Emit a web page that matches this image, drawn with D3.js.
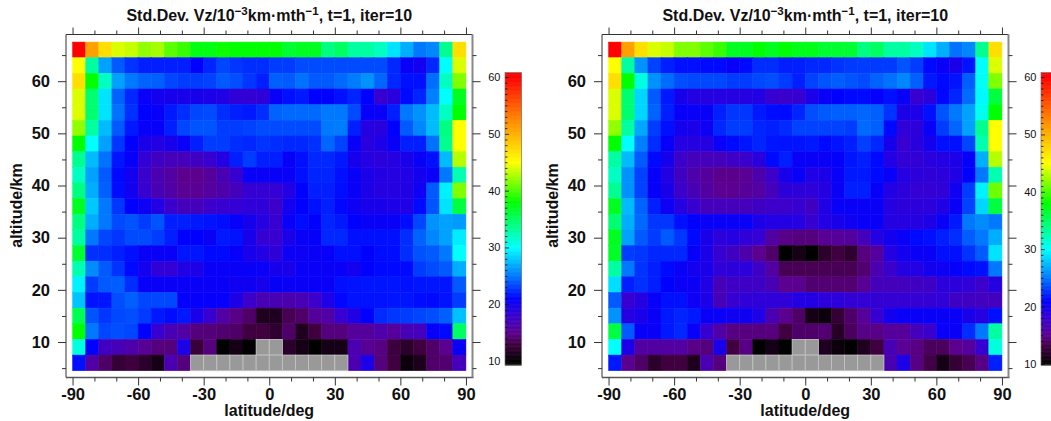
<!DOCTYPE html>
<html>
<head>
<meta charset="utf-8">
<script src="https://cdn.jsdelivr.net/npm/d3@7"></script>
<style>
    html, body { margin: 0; padding: 0; background: #fff; overflow: hidden; }
    svg { display: block; }
    text { font-family: "Liberation Sans", Arial, sans-serif; fill: #111; }
    .domain { display: none; }
</style>
</head>
<body>
<svg id="chart" width="1051" height="421"></svg>
<script>
// cell centres, cells are 6 deg x 3 km
const latitudes = [-87, -81, -75, -69, -63, -57, -51, -45, -39, -33, -27, -21, -15, -9, -3, 3, 9, 15, 21, 27, 33, 39, 45, 51, 57, 63, 69, 75, 81, 87];
const altitudes = [66, 63, 60, 57, 54, 51, 48, 45, 42, 39, 36, 33, 30, 27, 24, 21, 18, 15, 12, 9, 6];

const latMajor = [-90, -60, -30, 0, 30, 60, 90];
const latMinor = [-80, -70, -50, -40, -20, -10, 10, 20, 40, 50, 70, 80];
const altMajor = [10, 20, 30, 40, 50, 60];
const altMinor = [5, 15, 25, 35, 45, 55, 65];
const barLabels = [10, 20, 30, 40, 50, 60];

const _ = null; // no data, grey cell

// std dev, top row first
const valuesLeft = [
    [60, 51, 47, 44, 43.5, 42, 42.5, 40.5, 39.5, 37.5, 37.5, 38.3, 38, 38, 38, 38, 36.5, 37, 37, 34, 35, 33, 33, 32, 29, 27, 25, 25.5, 33.5, 47],
    [45, 33, 26.5, 24, 22.7, 22, 22, 22, 22, 21, 22.2, 23.3, 22.8, 22.5, 22.5, 23, 23, 23.5, 23.5, 23.5, 23.5, 23.5, 23.5, 23.5, 22.3, 20.5, 20, 22.3, 30, 44],
    [47, 38, 32, 26.5, 25, 24.3, 24.2, 23.3, 23, 23, 23.2, 24, 23.6, 22.8, 22, 24.2, 24, 24.8, 24, 24, 24.5, 25.2, 26, 24.4, 22.3, 21.5, 21.5, 24.7, 32, 41.5],
    [44, 34.5, 29, 24.3, 22.3, 20.5, 20, 19.8, 19.7, 19.8, 19.5, 19.3, 18.5, 18.3, 18.5, 20.5, 21.5, 21.8, 21, 21, 21.5, 22.2, 21, 18, 18.8, 21.3, 22.2, 25.3, 30, 37],
    [44, 34.5, 29, 24.8, 22.6, 21, 20.7, 21.8, 22.5, 23.3, 23.5, 22.5, 22, 21.8, 22.5, 24.3, 24.5, 24.5, 24.5, 25, 25, 23.5, 20.7, 20.5, 22, 25, 26, 27.5, 32, 38],
    [42, 33, 27.5, 24, 21.8, 20.7, 20.7, 22, 23.3, 23.8, 23.8, 23, 23, 23.2, 23.5, 23.5, 23.5, 23.5, 23.5, 25, 25.2, 22, 19, 18.8, 21, 24, 25.5, 27.5, 34, 45],
    [38, 30, 26.5, 22.8, 21, 19.6, 19.2, 19.7, 20.5, 22, 23, 23, 22.5, 22.3, 22.7, 22.5, 22.3, 22.3, 22.6, 24.4, 23.2, 20.5, 18.8, 19.5, 20.5, 22, 22, 24.8, 33.5, 45],
    [33.5, 27.5, 24.8, 21.7, 20.6, 18.3, 17.3, 17, 17, 17.3, 18, 19.2, 22, 23, 22, 22, 20.6, 21.5, 22.3, 22.3, 21.8, 19.8, 19, 18.7, 19, 19.7, 20.5, 21.5, 27.5, 43],
    [32, 26.5, 24, 21.3, 20, 17.8, 16.5, 15.8, 15, 15, 15.5, 16.7, 18, 20.5, 20.5, 20.5, 20.5, 21.5, 22.2, 22.2, 21.5, 20.5, 19.5, 19.2, 19, 19.3, 20, 20.5, 25, 32.5],
    [34, 27, 24.2, 21.4, 20, 18, 16.7, 16, 15.2, 15.2, 15.7, 16.3, 17, 18.2, 18.2, 18.2, 19.2, 21, 22, 22, 21.4, 20.5, 19.5, 19, 19, 19.3, 20.3, 24, 29.5, 41.5],
    [37, 28, 25, 22.8, 21, 20.3, 19.2, 17.8, 17, 17, 17.7, 18, 18.2, 18.5, 18.5, 17.7, 20, 21, 21.5, 22, 21.2, 20.3, 19.7, 19.7, 19.5, 19.3, 21.3, 23.8, 29, 36],
    [34, 27, 25, 23.5, 23.8, 23, 23.8, 22, 22, 21.8, 21.6, 21.4, 20.7, 19.8, 19, 18, 20.5, 21.4, 21, 22.2, 21.8, 21, 20.5, 20.5, 20.5, 21.4, 23.3, 26, 26.5, 26.3],
    [33, 25, 23.3, 22.8, 23.5, 23.5, 23, 22, 21, 21, 20.5, 21.8, 21.6, 19.7, 18.2, 18, 19.6, 20.5, 20.7, 22.3, 22.3, 21.5, 21.5, 21.5, 21.5, 22.5, 24.3, 25.5, 26.5, 29.3],
    [36.5, 22.6, 22.5, 22, 21.5, 20.5, 20.5, 20.5, 21.7, 21.7, 21.3, 21.3, 20.7, 19.7, 19.2, 18.5, 20.3, 20.3, 20.5, 20.7, 21.5, 21.5, 21, 21.4, 21.4, 22.5, 23.7, 24, 25, 30],
    [32.5, 25.7, 24, 22.7, 21.3, 20, 18.5, 18.3, 19.3, 19.5, 20.5, 20.5, 20.5, 20.5, 20.5, 19.8, 19.7, 20.5, 20.5, 20.5, 20.5, 20, 21, 21.3, 21.3, 21.3, 23, 23.5, 24, 27],
    [29.5, 23, 24, 24.1, 22.5, 20.7, 20.5, 20.5, 20.5, 20.5, 20.5, 20.5, 20.2, 20.2, 19.8, 20.6, 20.5, 20.5, 20.5, 20.5, 21.5, 21.6, 21.7, 21.7, 21.7, 21.5, 21.7, 21.7, 21.7, 24],
    [27.8, 21.6, 21.7, 23.6, 24.2, 23.3, 23.4, 23.4, 20.8, 20.8, 20.8, 20.8, 19.5, 17.7, 16.7, 16.7, 16.4, 16.7, 17.7, 19.4, 21.2, 21.6, 21.6, 21.6, 21.7, 21.7, 21.4, 21.3, 21.6, 23],
    [35.5, 23.8, 22.8, 23.4, 23.6, 22.9, 21.8, 21.4, 21.8, 19.6, 18, 16, 14.8, 14, 11.5, 11.5, 13.5, 14, 15.5, 16, 18, 19.3, 21, 22.4, 22.8, 23, 23.3, 23.6, 24.2, 27.7],
    [38, 25, 23.3, 23.6, 23.3, 21, 18, 16.7, 16, 14.5, 14.4, 14.2, 14, 13, 13, 12.2, 14, 11.5, 13, 14.5, 14.5, 15.5, 15.5, 16.2, 15.5, 16.7, 17, 20.7, 21.3, 35],
    [31, 21, 17.3, 16.8, 16.2, 15.3, 14.5, 14.5, 19.5, 12.7, 14.5, 10, 11, 10, _, _, 12, 11, 10, 11, 11, 16.5, 15.3, 14.7, 12.8, 12, 13, 14, 15, 20.5],
    [21.5, 16, 14, 12.5, 13, 12, 11, 16.5, 14.5, _, _, _, _, _, _, _, _, _, _, _, _, 16.5, 19.5, 14.5, 13, 10.5, 11.3, 14, 14.2, 17]
];

// same
const valuesRight = [
    [60, 51, 47, 44, 43.5, 41.5, 41.5, 40.5, 39.5, 37, 37, 38, 37, 38, 37.3, 37.3, 36.5, 36.5, 36.5, 34, 35, 33, 33, 32, 29, 27, 24.8, 25.5, 33.5, 47],
    [45, 33, 26, 23.2, 22, 21.5, 21.5, 21.3, 21.3, 20.5, 21.3, 22.5, 22.5, 22, 22, 22.3, 22.3, 22.7, 22.9, 23, 22.9, 22.9, 23.8, 23, 21.3, 20.5, 19.6, 21.6, 30, 44],
    [47, 38, 31, 26, 24.6, 23.6, 23.4, 23.4, 23.4, 23, 23, 23.4, 23.6, 23, 22, 23.2, 23.8, 24.1, 23.8, 23.5, 24.3, 24.8, 25.5, 24.2, 21.8, 21.3, 21.6, 24.1, 30.3, 41.5],
    [44, 34.5, 28.5, 24, 21.8, 19.8, 19.2, 19, 19, 19, 19, 19.2, 18, 17.8, 18, 19.5, 20.5, 21, 21.3, 21.3, 20.8, 21.5, 20.5, 18, 18.7, 21.2, 22.2, 24.6, 29.8, 36],
    [44, 34.5, 28.5, 24.3, 22, 20.6, 20.5, 20.5, 22, 22.8, 22.8, 21.8, 21.4, 21.3, 22.2, 23.6, 24, 24.2, 24.2, 24.4, 24.2, 22.7, 19.5, 19.5, 21.5, 23.8, 25, 26.5, 30.5, 38],
    [42, 33, 26.8, 23, 21.5, 20, 19.6, 20.3, 22.3, 23, 23, 22.2, 22, 22.4, 23.2, 23.2, 23.2, 23.2, 23, 24.5, 24.2, 21.3, 18.5, 18.7, 20.5, 23, 24.4, 26.5, 33.5, 45],
    [38, 30, 25.3, 22.5, 20.7, 19, 19, 19, 20.5, 21.3, 21.7, 22.2, 21.7, 21.6, 21.6, 21.8, 21.3, 21.6, 22, 23.1, 22.3, 19.8, 18, 18.8, 19.9, 21.5, 21.5, 23.3, 32.5, 45],
    [33, 27.5, 24, 21.3, 19.8, 17.7, 17, 17, 17, 17.5, 17.8, 18.8, 21.3, 22, 20.5, 20.5, 20.5, 20.8, 21.7, 22, 21.3, 19.2, 18.3, 18.3, 18.8, 19.2, 19.5, 20.7, 27, 43],
    [32, 26, 23.2, 20.7, 19.2, 17.3, 16.2, 15.6, 14.9, 14.9, 15.2, 16.3, 17.7, 19.7, 20.5, 19.3, 19.5, 20.5, 21.8, 21.8, 21.3, 20.5, 19, 18.7, 18.5, 18.7, 19.3, 21, 25, 32.5],
    [33.5, 26, 23.2, 20.6, 19.6, 17.7, 16.7, 15.8, 15.1, 15.1, 15.4, 15.8, 17, 18.6, 18.6, 18.6, 19, 20.5, 22, 22, 20.7, 19.2, 18.7, 18.2, 18.2, 18.5, 20.2, 23, 29.5, 41],
    [37, 27.5, 24.3, 22, 20.3, 19, 18, 17, 17, 17, 17, 17.3, 17.7, 17.7, 18, 17.3, 19.3, 20.5, 20.5, 20.5, 20.5, 19, 18.7, 18.7, 18.7, 19.3, 20.5, 23.2, 28.5, 36],
    [34.5, 27, 24.5, 22.8, 22.8, 21.5, 21, 20.5, 20.5, 20.5, 20.5, 19.5, 19.2, 19.2, 19, 18, 19.2, 19.7, 20.2, 20.5, 20.5, 19, 19, 19, 19.4, 20.5, 21.8, 25, 25.7, 25],
    [37, 26.5, 24, 23, 24, 22.8, 21.3, 19.6, 18.7, 19, 18.5, 18.2, 15.8, 14.8, 14.5, 14.5, 15.3, 15.5, 15.7, 17, 19, 20, 20.5, 21.3, 21.5, 22, 22.5, 24.1, 25, 27],
    [36.8, 23, 22.8, 22.3, 22.3, 22.3, 20.6, 19.6, 18, 17.3, 16.3, 15, 14, 10, 11, 10, 12, 13, 12.2, 14.6, 15.7, 19, 20, 20.5, 20.5, 21.5, 21.5, 22.7, 24, 29],
    [33, 25, 22.7, 22, 21.3, 20.5, 20, 19.6, 18.5, 18.7, 18.7, 17.5, 15.8, 13.5, 13.5, 13.5, 13.5, 13.5, 13.5, 14.2, 16.5, 17.8, 19, 19.2, 20, 20.3, 20.7, 21.3, 21.5, 25],
    [28.8, 22, 22.6, 22, 21, 20.4, 20.4, 19.3, 16.8, 17.5, 17.5, 17.5, 16.7, 15, 15, 14.2, 14.3, 14.3, 14.3, 15.3, 17, 17, 17.1, 17.3, 17.5, 18.7, 18.7, 18.5, 17.7, 19],
    [24, 18, 19, 20.5, 21.5, 21.5, 20.3, 19.5, 16.8, 18, 18.5, 18.5, 18.5, 18.5, 19.2, 19.2, 18.7, 18.7, 18.3, 18.3, 18.3, 18.2, 18.2, 18.2, 18.2, 18.5, 17.5, 17.3, 17.2, 17.2],
    [26, 19, 19.6, 20.5, 21.8, 22.2, 21.8, 20.5, 20.5, 20.2, 20.2, 19.3, 16.5, 15, 14, 11, 10.5, 12.5, 14, 15.5, 18, 20, 20.5, 20.5, 20.5, 20.5, 20.5, 19.6, 19, 21.5],
    [36, 24, 20.6, 20.5, 21.8, 22.3, 20.5, 18, 16, 14.7, 14.6, 14.6, 14.6, 13, 14, 14, 14.3, 11.8, 13.8, 14.8, 14.8, 15.5, 15.5, 17, 17.8, 20.5, 20.5, 22.5, 25, 33],
    [30, 19.5, 15.8, 15.8, 15.8, 15.8, 14.8, 14.5, 19.7, 13, 14.7, 10, 11, 10, _, _, 11.5, 10.5, 10, 11.5, 13, 16.7, 15.2, 14.7, 13.7, 13.7, 15, 15.6, 18, 31],
    [21.8, 15, 14, 12, 13, 13, 11.3, 16.5, 14.5, _, _, _, _, _, _, _, _, _, _, _, _, 16.5, 19.5, 14.7, 13.2, 11, 12.5, 13.5, 14.7, 22]
];

const colorStops = [10, 13, 15, 18, 21, 25, 30, 34, 38, 45, 52, 60];
const colorRange = ["#000000", "#400040", "#5c0090", "#3800d0", "#0000ff", "#0078ff", "#00ffff", "#00ff80", "#00ff00", "#ffff00", "#ff9000", "#ff0000"];

const color = d3.scaleLinear().domain(colorStops).range(colorRange).clamp(true);
const svg = d3.select("#chart");

function styleAxis(g) {
    g.selectAll("line").attr("stroke", "#333").attr("stroke-width", 1);
    g.selectAll("text").attr("font-size", 16.5).attr("font-weight", "bold");
}

function drawPanel(left, right, values, barLeft, barValueBottom) {
    const top = 34.5, bottom = 377.5;
    const x = d3.scaleLinear().domain([-93, 93]).range([left, right]);
    const y = d3.scaleLinear().domain([68.95, 3.2]).range([top, bottom]);

    const panel = svg.append("g");

    // cells, same-colour stroke hides the seams between neighbours
    values.forEach((row, r) => {
        row.forEach((v, c) => {
            if (v === null) return;
            panel.append("rect")
                .attr("x", x(latitudes[c] - 3))
                .attr("y", y(altitudes[r] + 1.5))
                .attr("width", x(latitudes[c] + 3) - x(latitudes[c] - 3))
                .attr("height", y(altitudes[r] - 1.5) - y(altitudes[r] + 1.5))
                .attr("fill", color(v))
                .attr("stroke", color(v))
                .attr("stroke-width", 0.5);
        });
    });
    // no-data cells go last, their light outline sits on top
    values.forEach((row, r) => {
        row.forEach((v, c) => {
            if (v !== null) return;
            panel.append("rect")
                .attr("x", x(latitudes[c] - 3))
                .attr("y", y(altitudes[r] + 1.5))
                .attr("width", x(latitudes[c] + 3) - x(latitudes[c] - 3))
                .attr("height", y(altitudes[r] - 1.5) - y(altitudes[r] + 1.5))
                .attr("fill", "#999999")
                .attr("stroke", "#c4c4c4")
                .attr("stroke-width", 0.8);
        });
    });

    // frame, right side and bottom are heavier and grey in the original
    panel.append("line").attr("x1", left).attr("x2", left).attr("y1", top).attr("y2", bottom).attr("stroke", "#333");
    panel.append("line").attr("x1", left).attr("x2", right).attr("y1", top).attr("y2", top).attr("stroke", "#333");
    panel.append("line").attr("x1", left).attr("x2", right + 1).attr("y1", bottom).attr("y2", bottom).attr("stroke", "#555").attr("stroke-width", 1.5);
    panel.append("line").attr("x1", right).attr("x2", right).attr("y1", top).attr("y2", bottom).attr("stroke", "#888").attr("stroke-width", 2);

    // major ticks with labels, minor ones without
    const gb = panel.append("g").attr("transform", `translate(0,${bottom})`)
        .call(d3.axisBottom(x).tickValues(latMajor).tickSize(8).tickPadding(3).tickFormat(d => String(d)));
    styleAxis(gb);
    styleAxis(panel.append("g").attr("transform", `translate(0,${bottom})`)
        .call(d3.axisBottom(x).tickValues(latMinor).tickSize(4).tickFormat("")));
    styleAxis(panel.append("g").attr("transform", `translate(0,${top})`)
        .call(d3.axisTop(x).tickValues(latMajor).tickSize(7).tickFormat("")));
    styleAxis(panel.append("g").attr("transform", `translate(0,${top})`)
        .call(d3.axisTop(x).tickValues(latMinor).tickSize(4).tickFormat("")));

    const gl = panel.append("g").attr("transform", `translate(${left},0)`)
        .call(d3.axisLeft(y).tickValues(altMajor).tickSize(8).tickPadding(8));
    styleAxis(gl);
    styleAxis(panel.append("g").attr("transform", `translate(${left},0)`)
        .call(d3.axisLeft(y).tickValues(altMinor).tickSize(4).tickFormat("")));
    styleAxis(panel.append("g").attr("transform", `translate(${right},0)`)
        .call(d3.axisRight(y).tickValues(altMajor).tickSize(8).tickFormat("")));
    styleAxis(panel.append("g").attr("transform", `translate(${right},0)`)
        .call(d3.axisRight(y).tickValues(altMinor).tickSize(4).tickFormat("")));

    // titles
    const title = panel.append("text")
        .attr("x", (left + right) / 2)
        .attr("y", 20.5)
        .attr("text-anchor", "middle")
        .attr("font-size", 16)
        .attr("font-weight", "bold");
    title.append("tspan").text("Std.Dev. Vz/10");
    title.append("tspan").attr("dy", -6).attr("font-size", 11.5).text("\u22123");
    title.append("tspan").attr("dy", 6).text("km\u00b7mth");
    title.append("tspan").attr("dy", -6).attr("font-size", 11.5).text("\u22121");
    title.append("tspan").attr("dy", 6).text(", t=1, iter=10");

    panel.append("text")
        .attr("x", (left + right) / 2)
        .attr("y", 416)
        .attr("text-anchor", "middle")
        .attr("font-size", 16)
        .attr("font-weight", "bold")
        .text("latitude/deg");

    panel.append("text")
        .attr("transform", `translate(${left - 44.5},${(top + bottom) / 2 - 0.5}) rotate(-90)`)
        .attr("text-anchor", "middle")
        .attr("font-size", 16)
        .attr("font-weight", "bold")
        .text("altitude/km");

    // colour bar
    const barTop = 72.5, barBottom = 365, barRight = barLeft + 16.5;
    const barY = d3.scaleLinear().domain([barValueBottom, 60.8]).range([barBottom, barTop]);
    const steps = d3.range(barValueBottom, 60.8, 0.1);
    panel.append("g").selectAll("rect").data(steps).join("rect")
        .attr("x", barLeft)
        .attr("width", barRight - barLeft)
        .attr("y", d => barY(d + 0.1))
        .attr("height", d => barY(d) - barY(d + 0.1) + 0.5)
        .attr("fill", d => color(d));

    panel.append("rect")
        .attr("x", barLeft).attr("y", barTop)
        .attr("width", barRight - barLeft).attr("height", barBottom - barTop)
        .attr("fill", "none").attr("stroke", "#777").attr("stroke-width", 0.7);

    const barTicks = d3.range(10, 61).filter(d => d % 10 !== 0);
    panel.append("g").attr("transform", `translate(${barLeft},0)`)
        .call(d3.axisLeft(barY).tickValues(barTicks).tickSize(-2.5).tickFormat(""))
        .selectAll("line").attr("stroke", "#111").attr("stroke-width", 0.8);
    const gbar = panel.append("g").attr("transform", `translate(${barLeft},0)`)
        .call(d3.axisLeft(barY).tickValues(barLabels).tickSize(-4).tickPadding(4.5));
    gbar.selectAll("line").attr("stroke", "#111").attr("stroke-width", 0.8);
    gbar.selectAll("text").attr("font-size", 11).attr("x", -4.5).attr("fill", "#222");
}

drawPanel(66, 472.5, valuesLeft, 505, 9.3);
drawPanel(602, 1008.5, valuesRight, 1041, 9.8);
</script>
</body>
</html>
